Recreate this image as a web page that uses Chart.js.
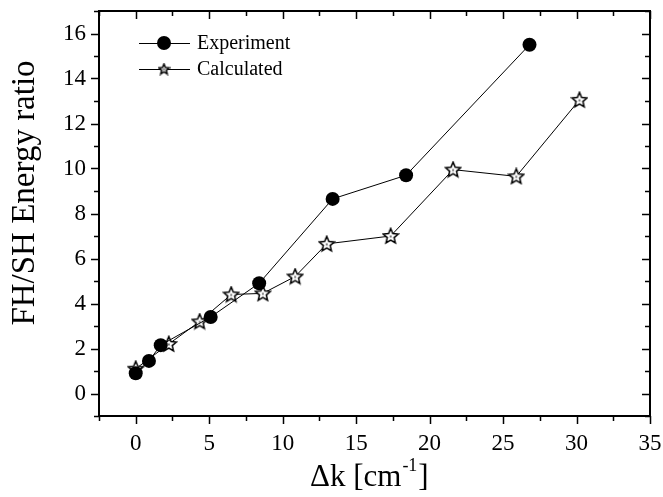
<!DOCTYPE html>
<html>
<head>
<meta charset="utf-8">
<script src="https://cdn.jsdelivr.net/npm/chart.js@4/dist/chart.umd.min.js"></script>
<style>
  body { margin: 0; background: #fff; }
  #myChart { display: block; }
</style>
</head>
<body>
<canvas id="myChart" width="663" height="497"></canvas>
<script>
var expX = [0, 0.9, 1.7, 5.1, 8.4, 13.4, 18.4, 26.8];
var expY = [0.9, 1.45, 2.15, 3.4, 4.9, 8.65, 9.7, 15.5];
var calcX = [0, 2.25, 4.35, 6.5, 8.65, 10.85, 13.0, 17.35, 21.6, 25.9, 30.2];
var calcY = [1.1, 2.2, 3.2, 4.4, 4.45, 5.2, 6.65, 7.0, 9.95, 9.65, 13.05];
var seriesNames = ['Experiment', 'Calculated'];
var yTitle = 'FH/SH Energy ratio';

var serif = '"Liberation Serif", "Times New Roman", serif';

function pairs(xs, ys) {
    var out = [];
    for (var i = 0; i < xs.length; i++) out.push({x: xs[i], y: ys[i]});
    return out;
}

// open five point star with a little dot in the middle
function makeStar(size) {
    var c = document.createElement('canvas');
    c.width = size; c.height = size;
    var g = c.getContext('2d');
    var cx = size / 2, cy = size / 2 + 0.5;
    var ro = size / 2 - 1, ri = ro * 0.45;
    g.beginPath();
    for (var k = 0; k < 10; k++) {
        var r = (k % 2 === 0) ? ro : ri;
        var a = -Math.PI / 2 + k * Math.PI / 5;
        var px = cx + r * Math.cos(a), py = cy + r * Math.sin(a);
        if (k === 0) g.moveTo(px, py); else g.lineTo(px, py);
    }
    g.closePath();
    g.fillStyle = '#fff';
    g.fill();
    g.lineWidth = 1.5;
    g.strokeStyle = '#000';
    g.stroke();
    g.fillStyle = '#777';
    g.fillRect(cx - 1, cy - 1, 2, 2);
    return c;
}
var starBig = makeStar(18);
var starSmall = makeStar(13);

var frame = {
    id: 'frame',
    beforeDraw: function(chart) {
        var c = chart.ctx;
        c.save();
        c.fillStyle = '#fff';
        c.fillRect(0, 0, chart.width, chart.height);
        c.restore();
    },
    afterDraw: function(chart) {
        var c = chart.ctx, a = chart.chartArea;
        var xs = chart.scales.x, ys = chart.scales.y;
        c.save();
        c.strokeStyle = '#000';
        c.lineWidth = 1.5;
        c.beginPath();
        xs.ticks.forEach(function(t) {
            var p = Math.round(xs.getPixelForValue(t.value)) + 0.5;
            var len = (t.value % 5 === 0) ? 8 : 5;
            c.moveTo(p, a.bottom); c.lineTo(p, a.bottom + len);
            c.moveTo(p, a.top); c.lineTo(p, a.top + len);
        });
        ys.ticks.forEach(function(t) {
            var p = Math.round(ys.getPixelForValue(t.value)) + 0.5;
            var len = (t.value % 2 === 0) ? 8 : 5;
            c.moveTo(a.left, p); c.lineTo(a.left - len, p);
            c.moveTo(a.right, p); c.lineTo(a.right - len, p);
        });
        c.stroke();
        c.lineWidth = 2;
        c.strokeRect(a.left, a.top, a.right - a.left, a.bottom - a.top);

        c.fillStyle = '#000';
        c.textBaseline = 'alphabetic';

        // y title
        c.save();
        c.translate(34, 193);
        c.rotate(-Math.PI / 2);
        c.font = '33px ' + serif;
        c.textAlign = 'center';
        c.fillText(yTitle, 0, 0);
        c.restore();

        // x title with superscript
        var s1 = '\u0394k [cm', s3 = ']';
        c.font = '31px ' + serif;
        var w1 = c.measureText(s1).width, w3 = c.measureText(s3).width;
        c.font = '18px ' + serif;
        var w2 = c.measureText('-1').width;
        var tx = 310;
        var ty = 486;
        c.font = '31px ' + serif;
        c.fillText(s1, tx, ty);
        c.font = '18px ' + serif;
        c.fillText('-1', tx + w1 + 1, ty - 15);
        c.font = '31px ' + serif;
        c.fillText(s3, tx + w1 + w2 + 2, ty);

        // legend
        var ds = chart.data.datasets;
        var ly = [43, 69];
        c.font = '20px ' + serif;
        c.textBaseline = 'middle';
        for (var i = 0; i < ds.length; i++) {
            c.lineWidth = 1;
            c.beginPath();
            c.moveTo(139, ly[i] + 0.5); c.lineTo(190, ly[i] + 0.5);
            c.stroke();
            if (i === 0) {
                c.beginPath();
                c.arc(164, ly[i], 7, 0, Math.PI * 2);
                c.fillStyle = '#000';
                c.fill();
            } else {
                c.drawImage(starSmall, 164 - starSmall.width / 2, ly[i] - starSmall.height / 2);
            }
            c.fillStyle = '#000';
            c.fillText(ds[i].label, 197, ly[i] + 1);
        }
        c.restore();
    }
};

var ctx = document.getElementById('myChart').getContext('2d');
var chart = new Chart(ctx, {
    type: 'scatter',
    data: {
        datasets: [{
            label: seriesNames[0],
            data: pairs(expX, expY),
            showLine: true,
            borderColor: '#000',
            backgroundColor: '#000',
            borderWidth: 1,
            pointStyle: 'circle',
            pointRadius: 7,
            pointBorderWidth: 0
        }, {
            label: seriesNames[1],
            data: pairs(calcX, calcY),
            showLine: true,
            borderColor: '#000',
            backgroundColor: '#fff',
            borderWidth: 1,
            pointStyle: starBig,
            pointRadius: 9
        }]
    },
    plugins: [frame],
    options: {
        responsive: false,
        animation: false,
        devicePixelRatio: 1,
        layout: { padding: { left: 0, top: 11, right: 13, bottom: 0 } },
        plugins: {
            legend: { display: false },
            tooltip: { enabled: false }
        },
        scales: {
            x: {
                type: 'linear',
                min: -2.5,
                max: 35,
                grid: { display: false, drawTicks: false },
                border: { display: false },
                ticks: {
                    stepSize: 2.5,
                    autoSkip: false,
                    maxRotation: 0,
                    padding: 14,
                    color: '#000',
                    font: { family: serif, size: 23 },
                    callback: function(v) { return v % 5 === 0 ? v : ''; }
                },
                afterFit: function(s) {
                    s.height = 81;
                    s.paddingLeft = 0;
                    s.paddingRight = 0;
                }
            },
            y: {
                min: -1,
                max: 17,
                grid: { display: false, drawTicks: false },
                border: { display: false },
                ticks: {
                    stepSize: 1,
                    autoSkip: false,
                    padding: 13,
                    color: '#000',
                    font: { family: serif, size: 23 },
                    callback: function(v) { return (v % 2 === 0 && v >= 0 && v <= 16) ? v : ''; }
                },
                afterFit: function(s) {
                    s.width = 99;
                    s.paddingTop = 0;
                    s.paddingBottom = 0;
                }
            }
        }
    }
});
</script>
</body>
</html>
